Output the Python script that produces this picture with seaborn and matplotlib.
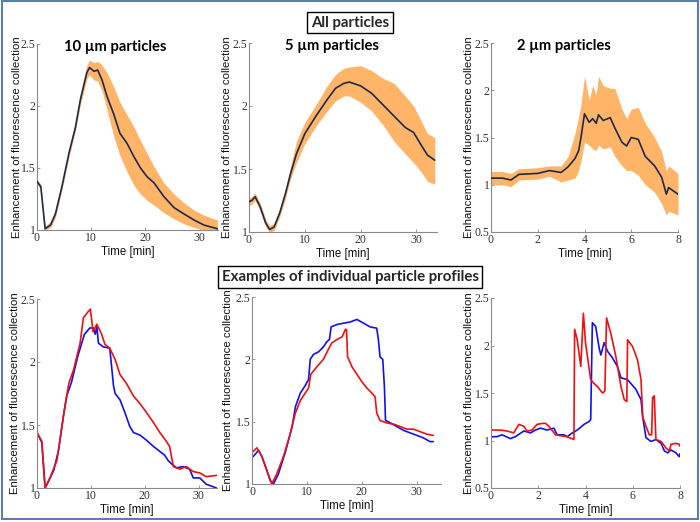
import numpy as np
import pandas as pd
import matplotlib
matplotlib.use("Agg")
import matplotlib.pyplot as plt
from matplotlib.patches import Rectangle
import seaborn as sns

# ---------------- data ----------------
# Panel 1: 10 um particles (mean + band)
t1 = [0, 0.7, 1.5, 2.5, 3.4, 4.6, 5.9, 7.1, 8.0, 9.2, 9.7, 10.5, 11.2, 12.0, 12.9, 14.2, 15.3,
      16.6, 17.9, 19.1, 20.3, 21.6, 23.4, 25.3, 27.1, 29.0, 30.8, 33.3]
m1 = [1.39, 1.35, 1.01, 1.04, 1.13, 1.35, 1.62, 1.83, 2.05, 2.27, 2.31, 2.28, 2.29, 2.21, 2.08,
      1.93, 1.78, 1.70, 1.59, 1.50, 1.43, 1.38, 1.27, 1.18, 1.13, 1.08, 1.04, 1.01]
up1 = [1.41, 1.37, 1.03, 1.07, 1.16, 1.38, 1.65, 1.87, 2.10, 2.33, 2.37, 2.35, 2.36, 2.33, 2.27,
       2.15, 2.03, 1.93, 1.83, 1.72, 1.62, 1.51, 1.38, 1.29, 1.22, 1.16, 1.12, 1.08]
lo1 = [1.37, 1.33, 1.00, 1.02, 1.10, 1.32, 1.59, 1.80, 2.01, 2.22, 2.25, 2.21, 2.20, 2.12, 1.97,
       1.75, 1.60, 1.47, 1.36, 1.29, 1.24, 1.20, 1.14, 1.09, 1.05, 1.02, 1.00, 0.99]

# Panel 2: 5 um particles
t2 = [0, 0.5, 1.1, 2.0, 3.0, 3.7, 4.5, 5.5, 6.5, 7.5, 8.5, 10, 12, 14, 15.5, 17, 18, 20, 22, 24,
      26, 28, 29.5, 31, 32, 33.3]
m2 = [1.24, 1.25, 1.28, 1.20, 1.07, 1.02, 1.04, 1.15, 1.30, 1.47, 1.62, 1.78, 1.92, 2.05, 2.14,
      2.18, 2.19, 2.16, 2.10, 2.01, 1.92, 1.83, 1.79, 1.68, 1.61, 1.57]
up2 = [1.27, 1.28, 1.31, 1.23, 1.10, 1.05, 1.07, 1.18, 1.34, 1.53, 1.72, 1.87, 2.01, 2.16, 2.25,
       2.30, 2.31, 2.32, 2.28, 2.22, 2.18, 2.08, 2.00, 1.87, 1.78, 1.75]
lo2 = [1.21, 1.22, 1.25, 1.17, 1.04, 1.00, 1.01, 1.12, 1.26, 1.43, 1.55, 1.70, 1.84, 1.96, 2.04,
       2.08, 2.08, 2.03, 1.96, 1.85, 1.72, 1.62, 1.55, 1.47, 1.40, 1.38]

# Panel 3: 2 um particles
t3 = [0, 0.5, 0.85, 1.2, 2.0, 2.5, 3.0, 3.3, 3.6, 3.75, 3.85, 4.0, 4.2, 4.35, 4.5, 4.6, 4.8, 5.1,
      5.3, 5.6, 5.8, 6.0, 6.3, 6.6, 7.0, 7.3, 7.5, 7.6, 8.0]
m3 = [1.07, 1.07, 1.05, 1.11, 1.12, 1.15, 1.13, 1.19, 1.28, 1.36, 1.50, 1.75, 1.66, 1.70, 1.65,
      1.74, 1.68, 1.71, 1.60, 1.45, 1.41, 1.50, 1.48, 1.30, 1.20, 1.08, 0.90, 0.97, 0.90]
up3 = [1.14, 1.14, 1.12, 1.17, 1.18, 1.20, 1.20, 1.30, 1.55, 1.72, 1.85, 2.15, 1.90, 2.05, 1.95,
       2.15, 2.05, 2.02, 2.02, 1.80, 1.70, 1.80, 1.82, 1.65, 1.50, 1.35, 1.15, 1.20, 1.12]
lo3 = [1.00, 1.00, 0.98, 1.05, 1.06, 1.09, 1.03, 1.05, 1.07, 1.15, 1.25, 1.45, 1.42, 1.38, 1.36,
       1.42, 1.38, 1.40, 1.30, 1.20, 1.15, 1.15, 1.10, 1.00, 0.92, 0.80, 0.68, 0.72, 0.68]

# Panel 4: individual 10 um profiles
t4b = [0, 0.9, 1.5, 2.1, 3.1, 4.0, 4.9, 5.5, 6.4, 7.6, 8.8, 9.8, 10.5, 10.8, 11.1, 11.4, 12.3,
       13.5, 14.2, 14.5, 15.4, 16.3, 17.2, 17.9, 19.1, 20.3, 21.6, 22.8, 23.7, 24.3, 25.0, 25.9,
       27.1, 28.3, 29.0, 30.2, 31.4, 33.3]
v4b = [1.44, 1.36, 1.00, 1.05, 1.14, 1.30, 1.57, 1.73, 1.84, 2.05, 2.22, 2.27, 2.27, 2.22, 2.28,
       2.15, 2.12, 2.11, 1.81, 1.75, 1.70, 1.60, 1.49, 1.44, 1.42, 1.38, 1.33, 1.29, 1.26, 1.22,
       1.19, 1.16, 1.17, 1.15, 1.08, 1.08, 1.03, 1.00]
t4r = [0, 0.9, 1.5, 2.5, 3.7, 4.9, 5.9, 6.8, 8.0, 8.6, 9.5, 9.9, 10.4, 11.1, 12.0, 12.6, 13.5,
       14.5, 15.4, 16.6, 17.9, 19.1, 20.3, 21.6, 22.8, 24.0, 24.6, 25.3, 26.5, 27.7, 29.0, 30.2,
       31.4, 33.3]
v4r = [1.44, 1.37, 1.00, 1.09, 1.22, 1.57, 1.83, 1.94, 2.15, 2.35, 2.40, 2.42, 2.24, 2.30, 2.22,
       2.14, 2.11, 2.02, 1.90, 1.83, 1.73, 1.67, 1.60, 1.52, 1.44, 1.37, 1.33, 1.17, 1.15, 1.17,
       1.13, 1.12, 1.09, 1.10]

# Panel 5: individual 5 um profiles
t5b = [0.2, 1.2, 1.8, 2.7, 3.3, 3.9, 4.8, 6.1, 7.3, 7.9, 8.8, 9.7, 10.3, 10.6, 11.2, 12.1, 13.0,
       13.6, 14.1, 14.4, 15.5, 16.7, 17.9, 19.1, 20.3, 21.5, 22.7, 23.0, 23.3, 23.8, 24.1, 24.3,
       25.2, 26.4, 27.6, 28.8, 30.0, 31.2, 32.4, 33.0]
v5b = [1.22, 1.27, 1.22, 1.11, 1.03, 1.00, 1.08, 1.26, 1.46, 1.62, 1.73, 1.79, 1.84, 2.00, 2.04,
       2.06, 2.10, 2.14, 2.16, 2.26, 2.28, 2.29, 2.30, 2.32, 2.29, 2.26, 2.25, 2.16, 2.02, 2.00,
       1.78, 1.51, 1.49, 1.46, 1.43, 1.41, 1.39, 1.37, 1.34, 1.34]
t5r = [0.2, 0.9, 1.8, 3.0, 3.6, 4.5, 5.8, 7.0, 7.9, 8.8, 9.7, 10.3, 10.7, 11.8, 13.0, 13.9, 14.5,
       15.5, 16.4, 17.0, 17.2, 17.4, 18.2, 19.1, 20.0, 20.9, 21.8, 22.4, 22.7, 23.3, 24.5, 25.8,
       27.0, 28.2, 29.4, 30.6, 31.8, 33.0]
v5r = [1.26, 1.29, 1.22, 1.07, 1.00, 1.08, 1.23, 1.41, 1.57, 1.67, 1.73, 1.77, 1.88, 1.94, 2.00,
       2.08, 2.13, 2.16, 2.18, 2.24, 2.24, 2.02, 1.94, 1.88, 1.82, 1.77, 1.73, 1.70, 1.57, 1.51,
       1.49, 1.48, 1.46, 1.44, 1.44, 1.42, 1.40, 1.39]

# Panel 6: individual 2 um profiles
t6b = [0.04, 0.25, 0.47, 0.82, 1.03, 1.39, 1.67, 1.88, 2.1, 2.38, 2.66, 2.8, 3.09, 3.23, 3.44,
       3.65, 3.94, 4.15, 4.22, 4.29, 4.43, 4.58, 4.65, 4.79, 4.93, 5.14, 5.35, 5.5, 5.78, 5.92,
       6.13, 6.35, 6.42, 6.56, 6.77, 6.98, 7.2, 7.34, 7.48, 7.62, 7.83, 7.97, 8.0]
v6b = [1.04, 1.04, 1.06, 1.02, 1.04, 1.10, 1.08, 1.11, 1.13, 1.11, 1.13, 1.06, 1.06, 1.04, 1.08,
       1.11, 1.17, 1.20, 1.22, 2.24, 2.20, 1.97, 1.90, 2.03, 1.94, 1.87, 1.78, 1.66, 1.64, 1.60,
       1.54, 1.43, 1.25, 1.03, 0.99, 1.01, 0.97, 0.89, 0.87, 0.90, 0.87, 0.83, 0.86]
t6r = [0.04, 0.4, 0.68, 0.96, 1.18, 1.39, 1.53, 1.74, 1.95, 2.17, 2.31, 2.45, 2.73, 2.95, 3.23,
       3.51, 3.54, 3.65, 3.8, 3.91, 4.0, 4.22, 4.36, 4.5, 4.72, 4.82, 4.89, 5.07, 5.28, 5.5, 5.64,
       5.75, 5.78, 5.99, 6.2, 6.35, 6.42, 6.56, 6.7, 6.8, 6.84, 6.91, 6.98, 7.2, 7.41, 7.55, 7.62,
       7.83, 7.97, 8.0]
v6r = [1.11, 1.11, 1.10, 1.08, 1.17, 1.15, 1.10, 1.11, 1.17, 1.18, 1.18, 1.15, 1.06, 1.05, 1.04,
       1.01, 2.17, 2.06, 1.78, 2.34, 2.03, 1.64, 1.60, 1.57, 1.50, 1.52, 2.29, 2.13, 1.89, 1.57,
       1.43, 1.41, 2.06, 1.99, 1.85, 1.64, 1.25, 1.15, 1.06, 1.06, 1.45, 1.47, 1.01, 0.99, 0.92,
       0.89, 0.96, 0.97, 0.96, 0.94]

titles_top = ["10 \u00b5m particles", "5 \u00b5m particles", "2 \u00b5m particles"]
xticks_long = [0, 10, 20, 30]
xticks_short = [0, 2, 4, 6, 8]
yticks_a = [1, 1.5, 2, 2.5]
yticks_b = [0.5, 1, 1.5, 2, 2.5]
xlabel = "Time [min]"
ylabel = "Enhancement of fluorescence collection"

# ---------------- style ----------------
sns.set_style("white")
plt.rcParams["font.family"] = ["Liberation Sans", "DejaVu Sans"]

ORANGE = "#ffb468"
NAVY = "#1c2a4a"
RED = "#f01010"
BLUE = "#1010f0"
AXC = "#8a8a8a"

fig = plt.figure(figsize=(7.0, 5.22), dpi=100)
W, H = 700.0, 522.0


def add_ax(l, r, t, b):
    return fig.add_axes([l / W, 1 - b / H, (r - l) / W, (b - t) / H])


def fmt(v):
    return ("%g" % v)


def style(ax, xlim, ylim, xt, yt, ylx):
    ax.set_xlim(*xlim)
    ax.set_ylim(*ylim)
    for s in ["top", "right"]:
        ax.spines[s].set_visible(False)
    for s in ["left", "bottom"]:
        ax.spines[s].set_color(AXC)
        ax.spines[s].set_linewidth(0.8)
    ax.set_xticks(xt)
    ax.set_yticks(yt)
    ax.set_xticklabels([fmt(v) for v in xt], family="Liberation Serif", fontsize=8.5, color="#333333")
    ax.set_yticklabels([fmt(v) for v in yt], family="Liberation Serif", fontsize=8.5, color="#333333")
    ax.tick_params(direction="in", length=2.5, width=0.6, color=AXC, pad=1.2,
                   left=True, bottom=True, top=False, right=False)
    ax.set_xlabel(xlabel, fontsize=8.3, labelpad=1.5, color="#111111")
    ax.set_ylabel(ylabel, fontsize=8.2, color="#111111", va="center")
    ax.yaxis.set_label_coords(ylx, 0.5)
    ax.patch.set_alpha(0)


def band_panel(ax, t, m, up, lo):
    ax.fill_between(t, lo, up, color=ORANGE, lw=0, zorder=1)
    df = pd.DataFrame({"t": t, "v": m})
    sns.lineplot(data=df, x="t", y="v", ax=ax, color=NAVY, lw=1.2, estimator=None, zorder=3)


def pair_panel(ax, tb, vb, tr, vr):
    dfb = pd.DataFrame({"t": tb, "v": vb})
    dfr = pd.DataFrame({"t": tr, "v": vr})
    sns.lineplot(data=dfb, x="t", y="v", ax=ax, color=BLUE, lw=1.2, estimator=None, sort=False)
    sns.lineplot(data=dfr, x="t", y="v", ax=ax, color=RED, lw=1.2, estimator=None, sort=False)


ax1 = add_ax(37, 218, 44, 230)
band_panel(ax1, t1, m1, up1, lo1)
style(ax1, (0, 33.4), (1, 2.5), xticks_long, yticks_a, -0.11)

ax2 = add_ax(249, 437, 43, 232)
band_panel(ax2, t2, m2, up2, lo2)
style(ax2, (0, 33.7), (1, 2.5), xticks_long, yticks_a, -0.118)

ax3 = add_ax(491, 678, 43, 232)
band_panel(ax3, t3, m3, up3, lo3)
style(ax3, (0, 8), (0.5, 2.5), xticks_short, yticks_b, -0.118)

ax4 = add_ax(37, 217, 299, 488)
pair_panel(ax4, t4b, v4b, t4r, v4r)
style(ax4, (0, 33.4), (1, 2.5), xticks_long, yticks_a, -0.12)

ax5 = add_ax(252, 441, 297, 484)
pair_panel(ax5, t5b, v5b, t5r, v5r)
style(ax5, (0, 34.4), (1, 2.5), xticks_long, yticks_a, -0.125)

ax6 = add_ax(491, 680, 298, 488)
pair_panel(ax6, t6b, v6b, t6r, v6r)
style(ax6, (0, 8), (0.5, 2.5), xticks_short, yticks_b, -0.118)

# panel titles
for ax, txt, xf in [(ax1, titles_top[0], 0.43), (ax2, titles_top[1], 0.44), (ax3, titles_top[2], 0.39)]:
    ax.text(xf, 0.982, txt, transform=ax.transAxes, ha="center", va="center",
            family=["Lato", "DejaVu Sans"], fontweight="bold", fontsize=10.6, color="black")

# section headers
box = dict(boxstyle="square,pad=0.25", fc="white", ec="black", lw=1.0)
fig.text(350 / W, 1 - 22.5 / H, "All particles", ha="center", va="center",
         family=["Lato", "DejaVu Sans"], fontweight="bold", fontsize=10.8, bbox=box)
fig.text(350 / W, 1 - 277 / H, "Examples of individual particle profiles", ha="center", va="center",
         family=["Lato", "DejaVu Sans"], fontweight="bold", fontsize=10.8, bbox=box)

# outer frame
fig.add_artist(Rectangle((2 / W, 3 / H), 696 / W, 518 / H, transform=fig.transFigure,
                         fill=False, ec="#5b7db5", lw=1.5))

fig.savefig("out.png", dpi=100)
